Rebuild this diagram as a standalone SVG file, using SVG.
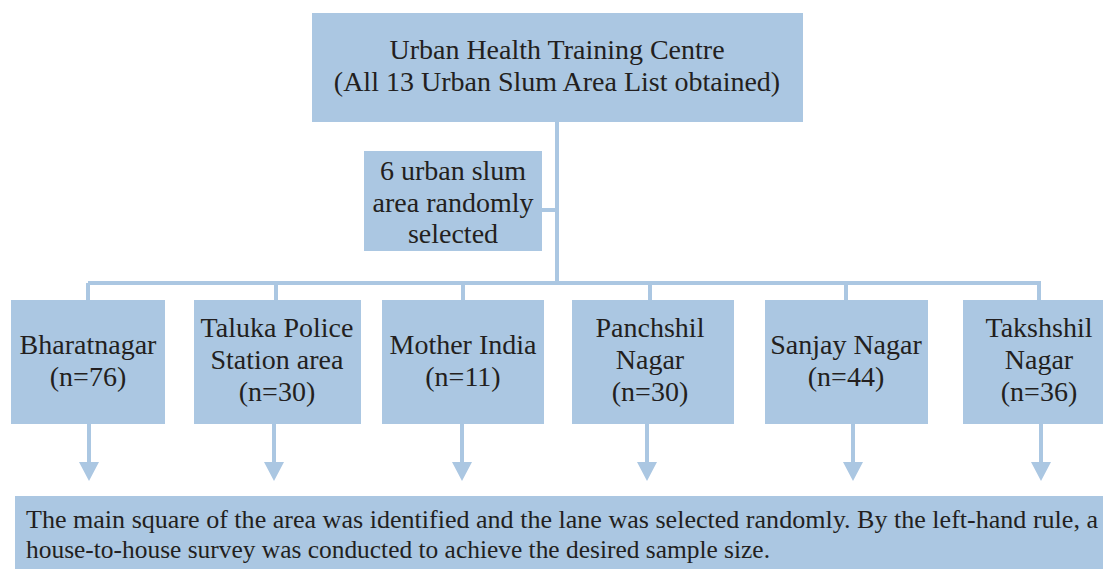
<svg xmlns="http://www.w3.org/2000/svg" width="1103" height="569" viewBox="0 0 1103 569">
<defs>
<style>
.box{fill:#abc7e2}
.t{font-family:"Liberation Serif","Times New Roman",serif;font-size:28px;fill:#231f20;text-anchor:middle}
.b{font-family:"Liberation Serif","Times New Roman",serif;font-size:25.4px;fill:#231f20}
.c{stroke:#abc7e2;stroke-width:4;fill:none}
.h{fill:#abc7e2}
</style>
</defs>
<rect width="1103" height="569" fill="#ffffff"/>
<g id="connectors">
<path class="c" d="M557 122V283M542 210H557M88 283H1041M88 283V300M276 283V300M463 283V300M650 283V300M846 283V300M1039 283V300"/>
<path class="c" d="M89 424V463M274 424V463M462 424V463M647 424V463M853 424V463M1041 424V463"/>
<path class="h" d="M79 462H99L89 481ZM264 462H284L274 481ZM452 462H472L462 481ZM637 462H657L647 481ZM843 462H863L853 481ZM1031 462H1051L1041 481Z"/>
</g>
<g id="top"><rect class="box" x="312" y="13" width="491" height="109"/>
<text class="t" x="557" y="59">Urban Health Training Centre</text>
<text class="t" x="557" y="91">(All 13 Urban Slum Area List obtained)</text></g>
<g id="label"><rect class="box" x="364" y="151" width="178" height="100"/>
<text class="t" x="453" y="180">6 urban slum</text>
<text class="t" x="453" y="212">area randomly</text>
<text class="t" x="453" y="243">selected</text></g>
<g id="n1"><rect class="box" x="11" y="300" width="154" height="124"/>
<text class="t" x="88" y="354">Bharatnagar</text>
<text class="t" x="88" y="386">(n=76)</text></g>
<g id="n2"><rect class="box" x="194" y="300" width="167" height="124"/>
<text class="t" x="277" y="337">Taluka Police</text>
<text class="t" x="277" y="369">Station area</text>
<text class="t" x="277" y="401">(n=30)</text></g>
<g id="n3"><rect class="box" x="382" y="300" width="162" height="124"/>
<text class="t" x="463" y="354">Mother India</text>
<text class="t" x="463" y="386">(n=11)</text></g>
<g id="n4"><rect class="box" x="572" y="300" width="162" height="124"/>
<text class="t" x="650" y="337">Panchshil</text>
<text class="t" x="650" y="369">Nagar</text>
<text class="t" x="650" y="401">(n=30)</text></g>
<g id="n5"><rect class="box" x="765" y="300" width="163" height="124"/>
<text class="t" x="846" y="354">Sanjay Nagar</text>
<text class="t" x="846" y="386">(n=44)</text></g>
<g id="n6"><rect class="box" x="963" y="300" width="140" height="124"/>
<text class="t" x="1039" y="337">Takshshil</text>
<text class="t" x="1039" y="369">Nagar</text>
<text class="t" x="1039" y="401">(n=36)</text></g>
<g id="bottom"><rect class="box" x="15" y="496" width="1088" height="73"/>
<text class="b" x="26" y="528" textLength="1072" lengthAdjust="spacingAndGlyphs">The main square of the area was identified and the lane was selected randomly. By the left-hand rule, a</text>
<text class="b" x="26" y="558" textLength="744" lengthAdjust="spacingAndGlyphs">house-to-house survey was conducted to achieve the desired sample size.</text></g>
</svg>
